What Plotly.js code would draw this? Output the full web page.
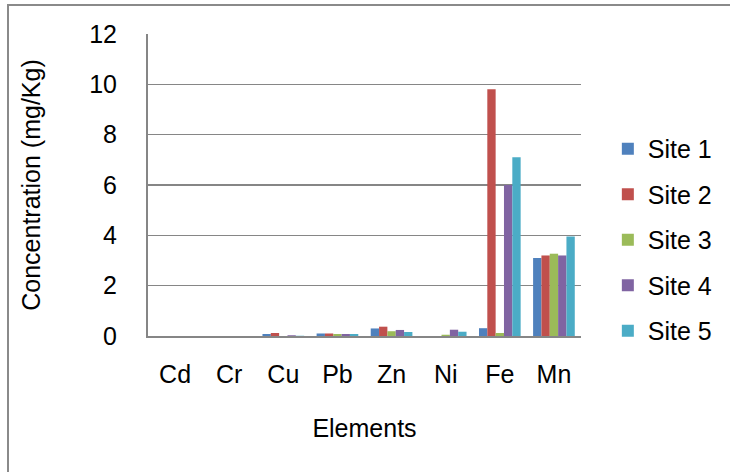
<!DOCTYPE html>
<html>
<head>
<meta charset="utf-8">
<script src="https://cdn.plot.ly/plotly-3.0.1.min.js"></script>
<style>
html,body{margin:0;padding:0;background:#fff;overflow:hidden;}
#wrap{position:relative;width:730px;height:472px;}
#chart{position:absolute;left:0;top:0;width:730px;height:472px;}
#frame{position:absolute;left:7px;top:4px;width:760px;height:500px;border:2px solid #8a8a8a;pointer-events:none;}
</style>
</head>
<body>
<div id="wrap"><div id="chart"></div><div id="frame"></div></div>
<script>
var elements = ["Cd","Cr","Cu","Pb","Zn","Ni","Fe","Mn"];
var site1 = [0, 0, 0.08, 0.10, 0.30, 0, 0.31, 3.10];
var site2 = [0, 0, 0.12, 0.10, 0.37, 0, 9.80, 3.20];
var site3 = [0, 0, 0, 0.08, 0.19, 0.05, 0.12, 3.27];
var site4 = [0, 0, 0.03, 0.08, 0.24, 0.25, 6.00, 3.20];
var site5 = [0, 0, 0.01, 0.08, 0.16, 0.17, 7.10, 3.95];
var seriesNames = ["Site 1","Site 2","Site 3","Site 4","Site 5"];
var seriesValues = [site1, site2, site3, site4, site5];
var colors = ["#4F81BD","#C0504D","#9BBB59","#8064A2","#4BACC6"];

var font = "Liberation Sans, Arial, sans-serif";
var fs = 25;
var traces = seriesValues.map(function(v,i){
  return {type:"bar", name:seriesNames[i], x:elements, y:v,
    marker:{color:colors[i], line:{width:0}}, legendgroup:"g"+i};
});

var layout = {
  width:730, height:472,
  margin:{l:148, r:147, t:34, b:136},
  paper_bgcolor:"#ffffff", plot_bgcolor:"#ffffff",
  font:{family:font, size:fs, color:"#000"},
  barmode:"group", bargap:0.23, bargroupgap:0,
  showlegend:true,
  legend:{x:1.062, xanchor:"left", y:0.318, yanchor:"middle",
    font:{family:font, size:fs, color:"#000"}, tracegroupgap:10,
    bgcolor:"rgba(0,0,0,0)"},
  xaxis:{
    showline:true, linecolor:"#868686", linewidth:2,
    ticks:"", tickfont:{family:font, size:fs},
    ticklabelstandoff:15,
    title:{text:"Elements", font:{family:font, size:fs}, standoff:32},
    automargin:false
  },
  yaxis:{
    range:[0,12], dtick:2, tick0:0,
    showline:true, linecolor:"#868686", linewidth:2,
    showgrid:true, gridcolor:"#868686", gridwidth:1.5,
    zeroline:false,
    ticks:"", tickfont:{family:font, size:fs},
    ticklabelstandoff:24,
    title:{text:"Concentration (mg/Kg)", font:{family:font, size:fs}, standoff:41},
    automargin:false
  }
};
Plotly.newPlot("chart", traces, layout, {displayModeBar:false, staticPlot:true});
</script>
</body>
</html>
